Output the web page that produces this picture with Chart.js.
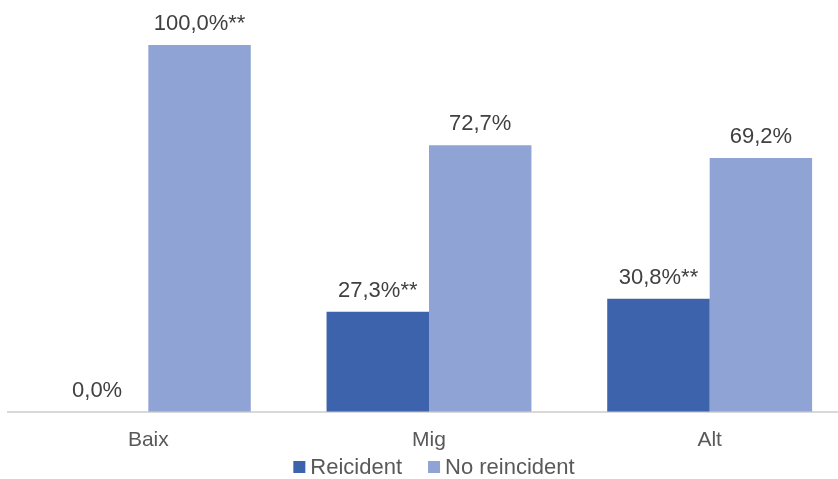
<!DOCTYPE html>
<html>
<head>
<meta charset="utf-8">
<script src="https://cdn.jsdelivr.net/npm/chart.js@4/dist/chart.umd.min.js"></script>
<style>
	body { margin: 0; overflow: hidden; background: #fff; }
	#wrap { width: 852px; height: 479px; }
</style>
</head>
<body>
<div id="wrap"><canvas id="graph" width="852" height="479"></canvas></div>
<script>
var categories = ["Baix", "Mig", "Alt"];
var reicident = [0.0, 27.3, 30.8];
var noReicident = [100.0, 72.7, 69.2];
// asterisks shown next to some values
var reicidentMarks = ["", "**", "**"];
var noReicidentMarks = ["**", "", ""];

var font = "'Liberation Sans', Arial, sans-serif";

function fmt(v) {
	return v.toFixed(1).replace(".", ",") + "%";
}

var valueLabels = {
	id: "valueLabels",
	afterDatasetsDraw: function(chart) {
		var ctx = chart.ctx;
		ctx.save();
		ctx.font = "22px " + font;
		ctx.fillStyle = "#404040";
		ctx.textAlign = "center";
		ctx.textBaseline = "alphabetic";
		chart.data.datasets.forEach(function(ds, di) {
			var meta = chart.getDatasetMeta(di);
			meta.data.forEach(function(bar, i) {
				ctx.fillText(fmt(ds.data[i]) + ds.marks[i], bar.x, bar.y - 15);
			});
		});
		ctx.restore();
	}
};

// legend drawn by hand so it sits like the original
var bottomLegend = {
	id: "bottomLegend",
	afterDraw: function(chart) {
		var ctx = chart.ctx;
		var ds = chart.data.datasets;
		ctx.save();
		ctx.font = "22px " + font;
		ctx.textBaseline = "middle";
		ctx.textAlign = "left";
		var box = 12, gap = 5, space = 26;
		var total = 0;
		ds.forEach(function(d, i) {
			total += box + gap + ctx.measureText(d.label).width;
			if (i > 0) total += space;
		});
		var cx = (chart.chartArea.left + chart.chartArea.right) / 2 + 5;
		var x = cx - total / 2;
		var y = 467;
		ds.forEach(function(d) {
			ctx.fillStyle = d.backgroundColor;
			ctx.fillRect(x, y - box / 2, box, box);
			x += box + gap;
			ctx.fillStyle = "#595959";
			ctx.fillText(d.label, x, y + 1);
			x += ctx.measureText(d.label).width + space;
		});
		ctx.restore();
	}
};

var ctx = document.getElementById("graph");
var graph = new Chart(ctx, {
	type: "bar",
	data: {
		labels: categories,
		datasets: [{
			label: "Reicident",
			data: reicident,
			marks: reicidentMarks,
			backgroundColor: "#3c63ac",
		}, {
			label: "No reincident",
			data: noReicident,
			marks: noReicidentMarks,
			backgroundColor: "#8fa3d5",
		}]
	},
	options: {
		responsive: false,
		animation: false,
		layout: { padding: { left: 8, right: 2, top: 45, bottom: 10 } },
		datasets: { bar: { categoryPercentage: 0.73, barPercentage: 1 } },
		scales: {
			x: {
				grid: { display: false, drawTicks: false },
				border: { color: "#d9d9d9", width: 2 },
				ticks: { color: "#595959", font: { family: font, size: 21 }, padding: 16 }
			},
			y: {
				display: false,
				min: 0,
				max: 100
			}
		},
		plugins: {
			legend: { display: false },
			tooltip: { enabled: false }
		}
	},
	plugins: [valueLabels, bottomLegend]
});
</script>
</body>
</html>
